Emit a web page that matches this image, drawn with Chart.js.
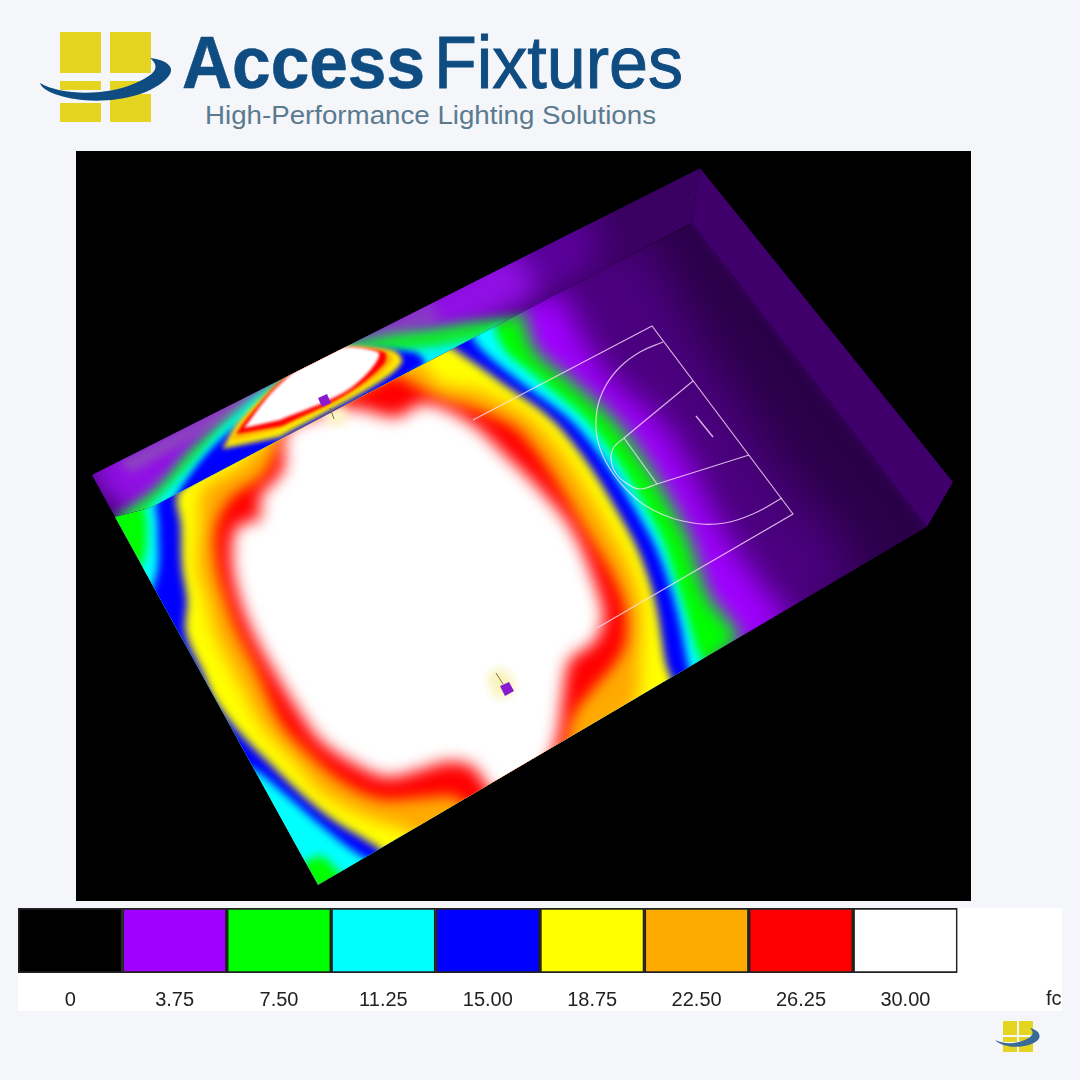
<!DOCTYPE html>
<html><head><meta charset="utf-8">
<style>
html,body{margin:0;padding:0;background:#f4f6f9;width:1080px;height:1080px;overflow:hidden;font-family:"Liberation Sans",Arial,sans-serif}
#panel{position:absolute;left:76px;top:151px;width:895px;height:750px;background:#000}
#logo{position:absolute;left:0;top:0}
#scene{position:absolute;left:0;top:0}
#band{position:absolute;left:18px;top:908px;width:1044px;height:103px;background:#fff}
#scale{position:absolute;left:0;top:0}
#unit{position:absolute;left:1028px;top:79px;font-size:20px;color:#222;line-height:22px}
</style></head><body>
<svg id="logo" width="1080" height="1080">
  <g fill="#e6d520">
    <rect x="60" y="32" width="41" height="41"/><rect x="110" y="32" width="41" height="41"/>
    <rect x="60" y="81" width="41" height="9"/><rect x="110" y="81" width="30" height="9"/>
    <rect x="60" y="103" width="41" height="19"/><rect x="110" y="94" width="41" height="28"/>
    <rect x="1003" y="1021" width="14" height="14"/><rect x="1019" y="1021" width="14" height="14"/>
    <rect x="1003" y="1037" width="14" height="5"/><rect x="1019" y="1037" width="10" height="4"/>
    <rect x="1003" y="1045" width="14" height="7"/><rect x="1019" y="1043" width="14" height="9"/>
  </g>
  <path d="M40 83C62 96 110 97 142 80C156 73 160 66 150 58C168 60 176 68 168 77C150 98 105 104 75 99C56 96 42 90 40 83Z" fill="#0f4c81"/>
  <path d="M995 1040C1005 1045 1020 1044 1030 1037C1034 1034 1033 1031 1030 1028C1038 1030 1042 1035 1038 1040C1030 1048 1005 1050 995 1040Z" fill="#3a6a98"/>
  <text x="182" y="88" font-family="Liberation Sans" font-weight="700" font-size="74" fill="#0f4c81" stroke="#0f4c81" stroke-width="0.6" textLength="243" lengthAdjust="spacingAndGlyphs">Access</text>
  <text x="434" y="88" font-family="Liberation Sans" font-size="74" fill="#0f4c81" stroke="#0f4c81" stroke-width="1" textLength="249" lengthAdjust="spacingAndGlyphs">Fixtures</text>
  <text x="205" y="124" font-family="Liberation Sans" font-size="25" fill="#5b7a90" textLength="451" lengthAdjust="spacingAndGlyphs">High-Performance Lighting Solutions</text>
</svg>
<div id="panel"></div>
<canvas id="scene" width="1080" height="1080"></canvas>
<div id="band"><canvas id="scale" width="1044" height="103"></canvas><div id="unit">fc</div></div>
<script src="https://cdn.jsdelivr.net/npm/chart.js@4/dist/chart.umd.js"></script>
<script>
// colour scale
const levelLabels = ['0','3.75','7.50','11.25','15.00','18.75','22.50','26.25','30.00',''];
const levelColors = ['#000000','#a000ff','#00ff00','#00ffff','#0000ff','#ffff00','#ffaa00','#ff0000','#ffffff','#ffffff'];
const levelCells  = [1,1,1,1,1,1,1,1,1,1];

// surfaces of the room
const floorEdge = [[115,517],[150,508],[692,223],[927,527],[318,885]];
const wallEdge  = [[92,475],[700,168],[692,223],[150,508],[115,517]];
const sideEdge  = [[700,168],[953,482],[927,527],[692,223]];
const roomEdge  = [[92,475],[700,168],[953,482],[927,527],[318,885],[115,517]];

// floor isolines
const floorDim    = [[640,225],[700,340],[780,470],[850,590],[330,940],[50,500],[300,330]];
const floorPurple = [[560,290],[590,350],[613,380],[667,430],[723,530],[767,593],[790,625],[330,920],[60,500],[300,350]];
const floorGreen  = [[522,310],[535,350],[570,380],[623,430],[685,530],[707,593],[735,645],[330,900],[80,500],[300,380]];
const floorCyan   = [[492,320],[505,350],[540,380],[595,430],[658,530],[680,593],[697,650],[706,680],[360,890],[345,880],[335,868],[320,856],[302,864],[280,870],[150,700],[120,600],[135,575],[145,555],[147,527],[148,500],[300,400]];
const floorBlue   = [[468,330],[482,350],[518,380],[580,430],[647,530],[672,593],[687,660],[690,695],[400,875],[372,862],[348,847],[318,823],[288,797],[258,772],[235,760],[150,650],[140,620],[150,595],[158,567],[158,527],[160,495],[300,400]];
const floorYellow = [[448,345],[498,380],[562,430],[628,530],[653,593],[665,660],[672,705],[400,865],[377,847],[333,820],[300,793],[263,757],[240,733],[215,700],[203,673],[186,633],[187,600],[182,567],[181,527],[180,490],[300,400]];
const floorOrange = [[420,360],[440,383],[483,392],[543,430],[610,530],[638,593],[640,660],[628,715],[440,845],[407,830],[367,817],[323,793],[293,760],[263,727],[243,690],[215,633],[207,600],[198,567],[200,527],[203,490],[240,465],[290,410]];
const floorRed    = [[395,374],[440,399],[477,410],[523,435],[588,534],[622,597],[626,640],[613,666],[593,689],[573,716],[561,750],[475,808],[453,796],[420,798],[380,799],[344,783],[311,756],[281,723],[256,669],[236,629],[226,600],[217,567],[216,527],[232,497],[264,474],[284,429]];
const floorWhite  = [[290,425],[350,408],[397,417],[420,404],[440,407],[473,425],[507,457],[540,490],[572,530],[597,590],[603,620],[593,643],[570,660],[563,693],[557,737],[540,775],[497,795],[473,767],[447,762],[420,770],[387,777],[353,763],[320,740],[300,713],[275,673],[253,633],[240,600],[232,560],[237,527],[260,518],[260,497],[283,470],[283,440]];
const lampHalo    = [[486,676],[500,668],[514,680],[510,696],[494,698]];

// wall isolines
const wallDim    = [[80,470],[590,205],[600,265],[140,525]];
const wallPurple = [[80,465],[510,245],[540,290],[140,525]];
const wallGreen  = [[112,520],[157,487],[190,450],[230,415],[270,385],[330,350],[385,333],[430,328],[513,318],[540,322],[530,345],[150,525]];
const wallCyan   = [[147,510],[185,470],[225,425],[268,388],[330,352],[400,350],[470,340],[505,326],[510,345],[150,525]];
const wallBlue   = [[170,505],[190,475],[215,445],[255,410],[285,378],[330,352],[413,352],[424,366],[260,455]];
const wallYellow = [[222,449],[240,420],[285,378],[330,350],[392,350],[402,362],[375,385],[280,437]];
const wallOrange = [[230,441],[247,417],[285,378],[330,350],[388,352],[392,362],[360,388],[275,430]];
const wallRed    = [[236,434],[250,415],[285,378],[330,350],[384,352],[384,364],[345,395],[282,426]];
const wallWhite  = [[244,428],[277,387],[327,350],[378,352],[372,368],[343,393],[280,420]];
const wallHaze   = [[118,462],[268,380],[280,392],[132,472]];
const wallHazeB  = [[330,350],[430,300],[440,322],[345,345]];

// court markings
const courtBound = [[473,420],[652,326],[793,514],[597,628]];
const courtArc   = [[663,342],[640,352],[620,367],[605,387],[597,410],[597,437],[606,462],[625,488],[653,510],[693,523],[725,523],[755,513],[782,498]];
const courtKeyA  = [[693,381],[624,438]];
const courtKeyB  = [[624,438],[614,447],[611,458],[615,472],[626,483],[640,489],[657,484]];
const courtKeyC  = [[657,484],[749,455]];
const courtLane  = [[624,438],[657,484]];
const courtBoard = [[696,416],[713,437]];

// fixtures
const lampA = [[318,398],[327,394],[331,403],[322,407]];
const lampB = [[500,686],[509,682],[514,691],[505,696]];
const poleA = [[330,408],[334,419]];
const poleB = [[496,673],[503,684]];
const glowA = [[322,410],[345,408],[345,424],[326,424]];

const pts = a => a.map(p => ({x:p[0], y:p[1]}));
const area = (data,color,region,blur,tension=0.35) => ({data:pts(data),showLine:true,pointRadius:0,fill:false,clip:false,
  isArea:true,areaColor:color,region,blurPx:blur,tension,borderWidth:0,borderColor:'transparent'});
const line = (data,color,width,tension=0) => ({data:pts(data),showLine:true,pointRadius:0,fill:false,clip:false,
  borderColor:color,borderWidth:width,tension});

const regions = {floor:floorEdge, wall:wallEdge, side:sideEdge, room:roomEdge};

const areaPainter = {
  id:'areaPainter',
  beforeDatasetDraw(chart,args){
    const ds = chart.data.datasets[args.index];
    if(!ds.isArea) return;
    const ctx = chart.ctx, sx = chart.scales.x, sy = chart.scales.y;
    ctx.save();
    if(ds.region){
      ctx.beginPath();
      regions[ds.region].forEach((p,i)=>{
        const X=sx.getPixelForValue(p[0]), Y=sy.getPixelForValue(p[1]);
        i?ctx.lineTo(X,Y):ctx.moveTo(X,Y);
      });
      ctx.closePath(); ctx.clip();
    }
    ctx.filter = ds.blurPx ? `blur(${ds.blurPx}px)` : 'none';
    ctx.fillStyle = ds.areaColor;
    ctx.beginPath();
    args.meta.dataset.path(ctx);
    ctx.closePath();
    ctx.fill();
    ctx.restore();
    return false;
  }
};

const courtInk = 'rgba(255,225,255,0.78)';

// listed bottom layer first; Chart.js paints the last dataset first, so the list is reversed
const layers = [
    area(wallEdge,'#3a0062','wall',0,0),
    area(wallDim,'#5e00a0','wall',18,0),
    area(wallPurple,'#9210e6','wall',14,0),
    area(wallGreen,'#10ec30','wall',6),
    area(wallHaze,'rgba(140,120,160,0.5)','wall',5,0),
    area(wallHazeB,'rgba(130,100,170,0.55)','wall',7,0),
    area(wallCyan,'#00f4f4','wall',4),
    area(wallBlue,'#0000ff','wall',3),
    area(wallYellow,'#ffee00','wall',2.5),
    area(wallOrange,'#ffaa00','wall',2),
    area(wallRed,'#ff0000','wall',1.5),
    area(wallWhite,'#ffffff','wall',1.5),

    area(floorEdge,'#2a0048','floor',0,0),
    area(floorDim,'#4c0080','floor',26),
    area(floorPurple,'#a000ff','floor',15),
    area(floorGreen,'#00ff00','floor',9),
    area(floorCyan,'#00ffff','floor',5),
    area(floorBlue,'#0000ff','floor',4.5),
    area(floorYellow,'#ffff00','floor',4),
    area(floorOrange,'#ffaa00','floor',8),
    area(floorRed,'#ff0000','floor',7),
    area(floorWhite,'#ffffff','floor',8),
    area(lampHalo,'#f8f4c0','floor',4),
    area(glowA,'#faf6c8','floor',4),

    area(sideEdge,'#40006c','room',4,0),
    area(sideEdge,'#40006c','side',0,0),

    line(courtBound,courtInk,1.2),
    line(courtArc,courtInk,1.2,0.4),
    line(courtKeyA,courtInk,1.2),
    line(courtKeyB,courtInk,1.2,0.4),
    line(courtKeyC,courtInk,1.2),
    line(courtLane,courtInk,1.2),
    line(courtBoard,courtInk,1.4),
    line(poleA,'#8a6a30',1),
    line(poleB,'#8a6a30',1),
    area(lampA,'#8a1ad0',null,0,0),
    area(lampB,'#8a1ad0',null,0,0)
];

new Chart(document.getElementById('scene'),{
  type:'scatter',
  plugins:[areaPainter],
  data:{datasets:layers.slice().reverse()},
  options:{
    responsive:false,animation:false,events:[],
    layout:{padding:0},
    plugins:{legend:{display:false},tooltip:{enabled:false}},
    scales:{
      x:{type:'linear',min:0,max:1080,display:false},
      y:{type:'linear',min:0,max:1080,reverse:true,display:false}
    }
  }
});

new Chart(document.getElementById('scale'),{
  type:'bar',
  data:{labels:levelLabels,datasets:[{
    data:levelCells,
    backgroundColor:levelColors,
    borderColor:levelColors.map((c,i)=> i===9 ? '#ffffff' : '#222222'),
    borderWidth:2,
    borderSkipped:false,
    barPercentage:1,categoryPercentage:1
  }]},
  options:{
    responsive:false,animation:false,events:[],
    layout:{padding:0},
    plugins:{legend:{display:false},tooltip:{enabled:false}},
    scales:{
      x:{type:'category',grid:{display:false},border:{display:false},
         afterFit(a){a.height=38},
         ticks:{autoSkip:false,maxRotation:0,minRotation:0,padding:7,color:'#222',
                font:{family:'Liberation Sans',size:20}}},
      y:{min:0,max:1,display:false}
    }
  }
});
</script>
</body></html>
